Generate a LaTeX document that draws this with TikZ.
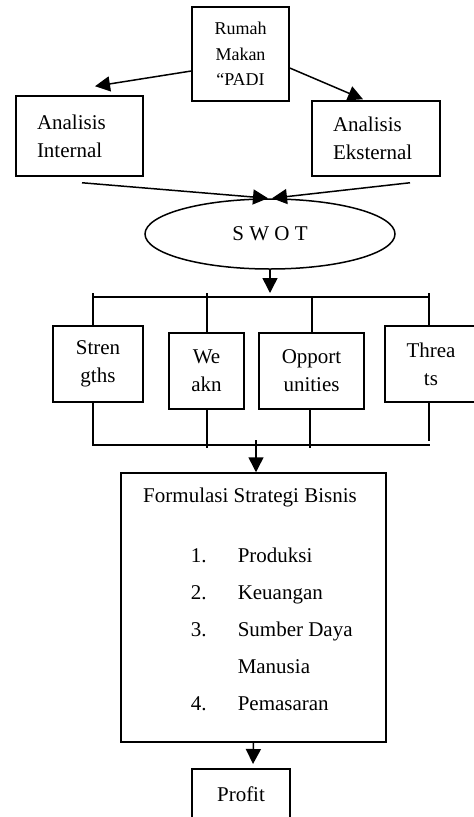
\documentclass[tikz,border=0pt]{standalone}
\usepackage{fontspec}
\setmainfont{Liberation Serif}
\usetikzlibrary{shapes.geometric,arrows.meta}
\begin{document}
\begin{tikzpicture}[x=1pt,y=-1pt,line width=1.5pt,
  txt/.style={font=\fontsize{21}{28}\selectfont, inner sep=0pt},
  box/.style={draw, rectangle, txt},
  arr/.style={-{Triangle[length=15pt,width=15pt]}}]
\useasboundingbox (0,0) rectangle (474,817);
\clip (0,0) rectangle (474,817);
% top
\node[box, minimum width=97pt, minimum height=94pt, align=center, font=\fontsize{18}{25.5}\selectfont] (rm) at (240.5,54) {Rumah\\Makan\\“PADI};
\node[box, minimum width=127pt, minimum height=80pt, text width=85pt, inner xsep=21pt, align=left] (ai) at (79.5,136) {Analisis\\Internal\\[-6pt]};
\node[box, minimum width=128pt, minimum height=75pt, text width=86pt, inner xsep=21pt, align=left] (ae) at (376,138.5) {Analisis\\Eksternal};
\node[draw, ellipse, txt, minimum width=250pt, minimum height=70pt] (sw) at (270,234) {S W O T};
% swot boxes
\node[box, minimum width=90pt, minimum height=76pt, align=center] (s) at (98,364) {Stren\\gths};
\node[box, minimum width=75pt, minimum height=76pt, align=center] (w) at (206.5,371) {We\\akn};
\node[box, minimum width=105pt, minimum height=76pt, align=center] (o) at (311.5,371) {Opport\\unities};
\node[box, minimum width=92pt, minimum height=76pt, align=center] (t) at (431,364) {Threa\\ts};
% formulasi
\node[draw, minimum width=265pt, minimum height=269pt] (fs) at (253.5,607.5) {};
\node[txt] (ft) at (250,497) {Formulasi Strategi Bisnis};
\node[txt, anchor=mid west] (n1) at (190,560) {1.};
\node[txt, anchor=mid west] (i1) at (237,560) {Produksi};
\node[txt, anchor=mid west] (n2) at (190,597) {2.};
\node[txt, anchor=mid west] (i2) at (237,597) {Keuangan};
\node[txt, anchor=mid west] (n3) at (190,634) {3.};
\node[txt, anchor=mid west] (i3) at (237,634) {Sumber Daya};
\node[txt, anchor=mid west] (i3b) at (237,671) {Manusia};
\node[txt, anchor=mid west] (n4) at (190,708) {4.};
\node[txt, anchor=mid west] (i4) at (237,708) {Pemasaran};
\node[box, minimum width=98pt, minimum height=51pt] (pf) at (241,794.5) {Profit};
% connectors
\draw[arr] ([yshift=-17pt]rm.west) -- ([xshift=15.5pt,yshift=9pt]ai.north);
\draw[arr] ([yshift=-14pt]rm.east) -- ([xshift=-13pt,yshift=1pt]ae.north);
\draw[arr] ([xshift=2.5pt,yshift=-6pt]ai.south) -- ([xshift=-2pt]sw.north);
\draw[arr] ([xshift=34pt,yshift=-6pt]ae.south) -- ([xshift=2pt]sw.north);
\coordinate (bt) at (270,297);
\coordinate (btl) at (93,297);
\coordinate (btw) at (207,297);
\coordinate (bto) at (312,297);
\coordinate (btr) at (429,297);
\draw[arr] (sw.south) -- ([yshift=4pt]bt);
\draw (btl) -- (btr);
\draw ([yshift=4pt]btl) -- (btl |- s.north);
\draw ([yshift=4pt]btw) -- (btw |- w.north);
\draw (bto) -- (bto |- o.north);
\draw ([yshift=4pt]btr) -- (btr |- t.north);
\coordinate (bbl) at (93,445);
\coordinate (bbw) at (207,448);
\coordinate (bbo) at (310,448);
\coordinate (bbr) at (429,441);
\coordinate (bbe) at (430,445);
\coordinate (ba) at (256,440);
\draw (bbl |- s.south) -- (bbl) -- (bbe);
\draw (bbw |- w.south) -- (bbw);
\draw (bbo |- o.south) -- (bbo);
\draw (bbr |- t.south) -- (bbr);
\draw[arr] (ba) -- (ba |- fs.north);
\coordinate (pa) at (253,764);
\draw[arr] (fs.south) -- (pa);
\end{tikzpicture}
\end{document}
